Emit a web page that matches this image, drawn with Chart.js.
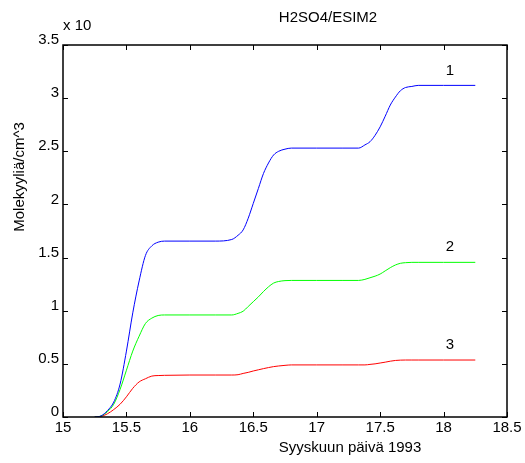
<!DOCTYPE html>
<html>
<head>
<meta charset="utf-8">
<script src="https://cdn.jsdelivr.net/npm/chart.js@4"></script>
<style>
  html, body { margin: 0; padding: 0; background: #fff; }
  canvas { display: block; }
</style>
</head>
<body>
<canvas id="myChart" width="525" height="463"></canvas>
<script>
// H2SO4/ESIM2 - molekyylipitoisuus ajan funktiona

var days = [15.25, 15.30, 15.35, 15.40, 15.45, 15.50, 15.55, 15.60, 15.65, 15.70,
    15.75, 15.80, 16.00, 16.20, 16.33, 16.38, 16.42, 16.46, 16.50, 16.54,
    16.58, 16.62, 16.66, 16.70, 16.75, 16.80, 17.00, 17.20, 17.33, 17.38,
    17.42, 17.46, 17.50, 17.54, 17.58, 17.62, 17.66, 17.70, 17.75, 17.80,
    18.00, 18.25];

var sarja1 = [0, 0.01, 0.06, 0.14, 0.31, 0.62, 0.98, 1.28, 1.52, 1.61,
    1.645, 1.655, 1.655, 1.655, 1.67, 1.71, 1.76, 1.87, 2.01, 2.15,
    2.29, 2.39, 2.465, 2.50, 2.52, 2.53, 2.53, 2.53, 2.53, 2.56,
    2.59, 2.65, 2.73, 2.83, 2.935, 3.01, 3.07, 3.10, 3.11, 3.12,
    3.12, 3.12];

var sarja2 = [0, 0.01, 0.05, 0.12, 0.26, 0.44, 0.62, 0.76, 0.88, 0.93,
    0.955, 0.96, 0.96, 0.96, 0.96, 0.975, 0.995, 1.04, 1.085, 1.13,
    1.18, 1.225, 1.26, 1.275, 1.283, 1.285, 1.285, 1.285, 1.285, 1.295,
    1.31, 1.325, 1.345, 1.375, 1.405, 1.43, 1.446, 1.452, 1.455, 1.455,
    1.455, 1.455];

var sarja3 = [0, 0.005, 0.03, 0.07, 0.12, 0.19, 0.27, 0.33, 0.36, 0.385,
    0.39, 0.392, 0.395, 0.395, 0.395, 0.398, 0.41, 0.42, 0.433, 0.444,
    0.455, 0.465, 0.474, 0.48, 0.486, 0.49, 0.49, 0.49, 0.49, 0.49,
    0.495, 0.50, 0.508, 0.516, 0.525, 0.532, 0.535, 0.536, 0.536, 0.536,
    0.536, 0.536];

var sarjaNimet = ['1', '2', '3'];
var varit = ['#0000ff', '#00ff00', '#ff0000'];

var fontti = "'Liberation Sans', Arial, sans-serif";
var koko = 15;

function pisteet(arvot) {
    return days.map(function (d, i) { return { x: d, y: arvot[i] }; });
}

// 15, 15.5, 16 ... ilman turhaa ".0"
function tikki(v) {
    return String(Math.round(v * 10) / 10);
}

// kehys, sisäänpäin osoittavat tikit ja tekstit
var matlabAkselit = {
    id: 'matlabAkselit',
    afterDraw: function (chart) {
        var ctx = chart.ctx;
        var a = chart.chartArea;
        var xs = chart.scales.x;
        var ys = chart.scales.y;
        var tl = 5;

        ctx.save();
        ctx.strokeStyle = '#000';
        ctx.lineWidth = 1;
        ctx.beginPath();
        xs.ticks.forEach(function (t) {
            var px = Math.round(xs.getPixelForValue(t.value)) + 0.5;
            ctx.moveTo(px, a.bottom); ctx.lineTo(px, a.bottom - tl);
            ctx.moveTo(px, a.top); ctx.lineTo(px, a.top + tl);
        });
        ys.ticks.forEach(function (t) {
            var py = Math.round(ys.getPixelForValue(t.value)) + 0.5;
            ctx.moveTo(a.left, py); ctx.lineTo(a.left + tl, py);
            ctx.moveTo(a.right, py); ctx.lineTo(a.right - tl, py);
        });
        ctx.stroke();

        ctx.lineWidth = 1.5;
        ctx.strokeRect(a.left, a.top, a.right - a.left, a.bottom - a.top);

        ctx.fillStyle = '#000';
        ctx.font = koko + 'px ' + fontti;
        ctx.textBaseline = 'middle';

        ctx.textAlign = 'left';
        ctx.fillText('x 10', 63, 26);

        ctx.textAlign = 'center';
        ctx.fillText('H2SO4/ESIM2', 328, 18);
        ctx.fillText('Syyskuun päivä 1993', 350, 448);

        // sarjojen numerot viivojen loppupään yläpuolelle
        var viim = [sarja1, sarja2, sarja3];
        viim.forEach(function (arr, i) {
            var px = xs.getPixelForValue(18.05);
            var py = ys.getPixelForValue(arr[arr.length - 1]) - 15;
            ctx.fillText(sarjaNimet[i], px, py);
        });

        ctx.save();
        ctx.translate(20, 177);
        ctx.rotate(-Math.PI / 2);
        ctx.fillText('Molekyyliä/cm^3', 0, 0);
        ctx.restore();

        ctx.restore();
    }
};

new Chart('myChart', {
    type: 'line',
    data: {
        datasets: [
            { label: sarjaNimet[0], data: pisteet(sarja1), borderColor: varit[0] },
            { label: sarjaNimet[1], data: pisteet(sarja2), borderColor: varit[1] },
            { label: sarjaNimet[2], data: pisteet(sarja3), borderColor: varit[2] }
        ]
    },
    options: {
        responsive: false,
        animation: false,
        parsing: false,
        elements: {
            line: { borderWidth: 1, cubicInterpolationMode: 'monotone', fill: false },
            point: { radius: 0 }
        },
        layout: { padding: { left: 0, top: 45, right: 18, bottom: 0 } },
        plugins: {
            legend: { display: false },
            title: { display: false },
            tooltip: { enabled: false }
        },
        scales: {
            x: {
                type: 'linear',
                min: 15,
                max: 18.5,
                grid: { display: false, drawTicks: false },
                border: { display: false },
                ticks: {
                    stepSize: 0.5,
                    padding: 2,
                    maxRotation: 0,
                    color: '#000',
                    font: { family: fontti, size: koko },
                    callback: tikki
                },
                afterFit: function (s) { s.height = 46; }
            },
            y: {
                min: 0,
                max: 3.5,
                grid: { display: false, drawTicks: false },
                border: { display: false },
                ticks: {
                    stepSize: 0.5,
                    padding: 4,
                    labelOffset: -5,
                    color: '#000',
                    font: { family: fontti, size: koko },
                    callback: tikki
                },
                afterFit: function (s) { s.width = 63; }
            }
        }
    },
    plugins: [matlabAkselit]
});
</script>
</body>
</html>
